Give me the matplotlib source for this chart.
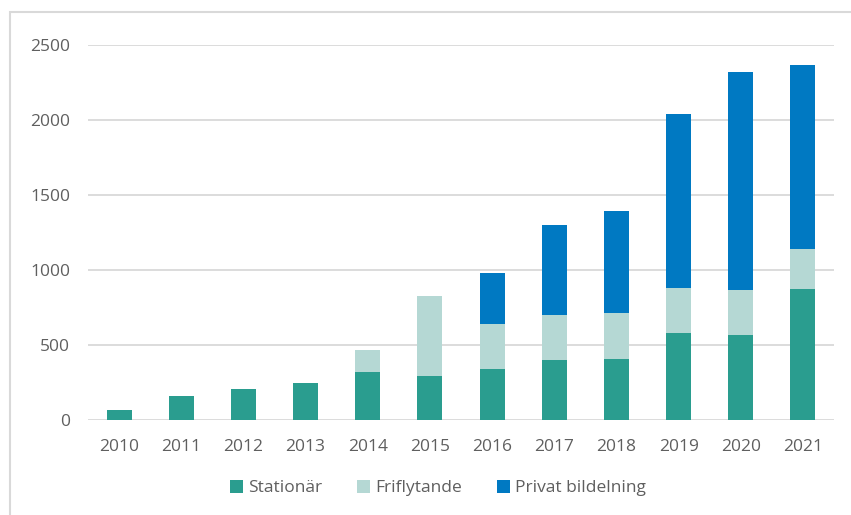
import matplotlib
matplotlib.use("Agg")
import matplotlib.pyplot as plt
from matplotlib.patches import Rectangle, Patch
import numpy as np

years = ["2010", "2011", "2012", "2013", "2014", "2015",
         "2016", "2017", "2018", "2019", "2020", "2021"]
stationar = [70, 162, 204, 244, 322, 293, 339, 397, 410, 581, 566, 874]
friflytande = [0, 0, 0, 0, 148, 534, 300, 304, 304, 297, 299, 266]
privat = [0, 0, 0, 0, 0, 0, 341, 601, 679, 1163, 1458, 1229]
series_names = ["Stationär", "Friflytande", "Privat bildelning"]
colors = ["#2A9D8F", "#B5D8D4", "#0079C2"]
yticks = [0, 500, 1000, 1500, 2000, 2500]

plt.rcParams["font.family"] = ["Open Sans", "DejaVu Sans"]
text_color = "#5F5F5F"

fig = plt.figure(figsize=(8.51, 5.15), dpi=100)
ax = fig.add_axes([88 / 851, 1 - 420 / 515, (834 - 88) / 851, (420 - 45) / 515])

x = np.arange(len(years))
width = 0.40
bottom = np.zeros(len(years))
for vals, c in zip([stationar, friflytande, privat], colors):
    v = np.array(vals, dtype=float)
    ax.bar(x, v, width, bottom=bottom, color=c, zorder=3)
    bottom += v

ax.set_xlim(-0.5, len(years) - 0.5)
ax.set_ylim(0, 2500)
ax.set_yticks(yticks)
ax.set_yticklabels([str(t) for t in yticks])
ax.set_xticks(x)
ax.set_xticklabels(years)
ax.grid(axis="y", color="#D9D9D9", linewidth=1.3, zorder=0)
ax.set_axisbelow(True)
for s in ax.spines.values():
    s.set_visible(False)
ax.tick_params(axis="both", length=0, labelsize=12.5, colors=text_color)
ax.tick_params(axis="y", pad=13)
ax.tick_params(axis="x", pad=14)

handles = [Patch(facecolor=c, edgecolor="none") for c in colors]
fig.legend(handles, series_names, loc="center", ncol=3,
           bbox_to_anchor=(0.515, 1 - 488 / 515), frameon=False,
           fontsize=12.5, labelcolor=text_color, handlelength=0.75,
           handleheight=0.75, handletextpad=0.3, columnspacing=2.0)

# light frame around the chart area
fig.patches.append(Rectangle((10 / 851, -0.1), 1.2, 1 - 12 / 515 + 0.1,
                             transform=fig.transFigure, fill=False,
                             edgecolor="#D9D9D9", linewidth=1.5))

fig.savefig("out.png", dpi=100, facecolor="white")
